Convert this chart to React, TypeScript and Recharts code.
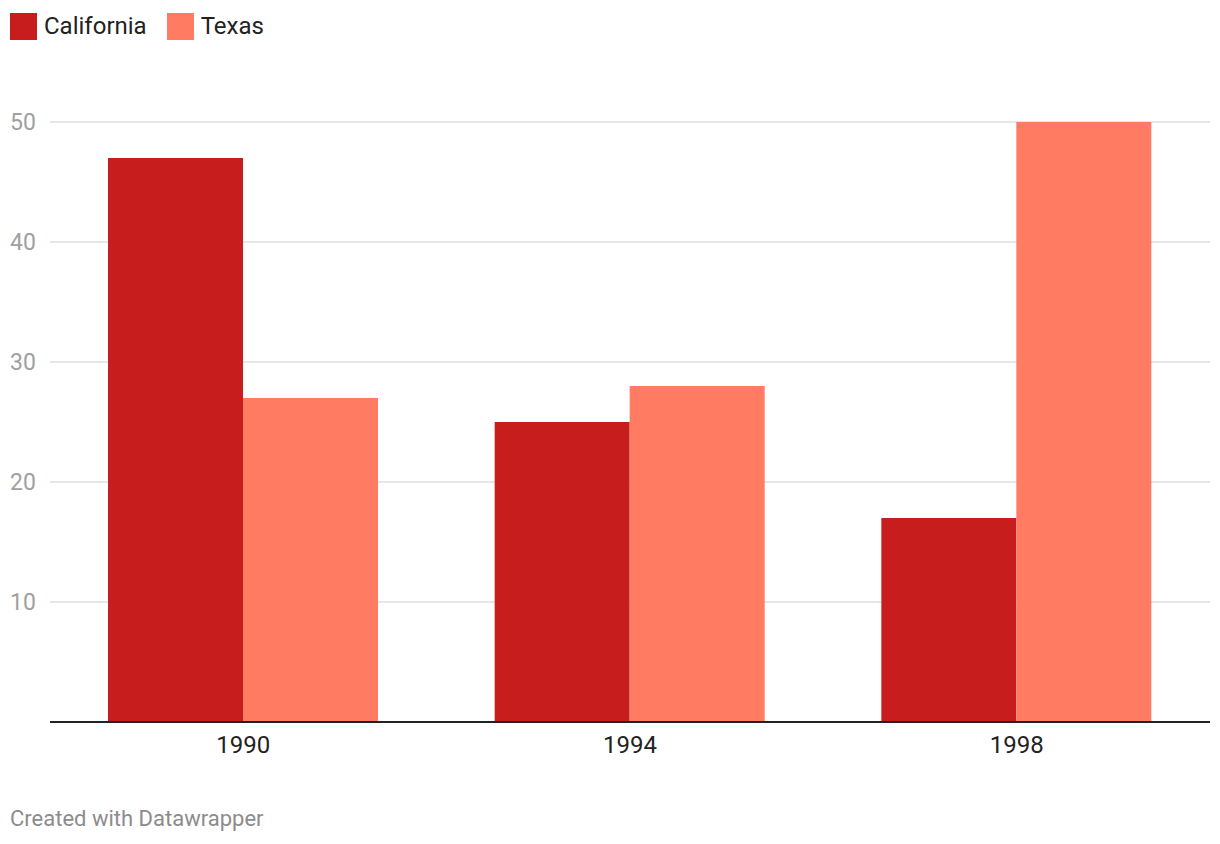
import { BarChart, Bar, XAxis, YAxis, CartesianGrid } from 'recharts';

const YEARS = ['1990', '1994', '1998'];
const CALIFORNIA = [47, 25, 17];
const TEXAS = [27, 28, 50];
const Y_TICKS = [10, 20, 30, 40, 50];

const SERIES = [
  { key: 'california', label: 'California', color: '#c71e1d' },
  { key: 'texas', label: 'Texas', color: '#ff7c62' },
];

const FONT = 'Roboto, "Noto Sans", sans-serif';

const data = YEARS.map((year, i) => ({
  year,
  california: CALIFORNIA[i],
  texas: TEXAS[i],
}));

function YTick({ y, payload }: any) {
  return (
    <text x={10} y={y} dy={8} textAnchor="start" fill="#a0a0a0" fontSize={23} fontFamily={FONT}>
      {payload.value}
    </text>
  );
}

export default function App() {
  return (
    <div style={{ position: 'absolute', left: 0, top: 0, width: 1220, height: 844, background: '#fff', fontFamily: FONT }}>
      <div style={{ position: 'absolute', left: 10, top: 13, display: 'flex', alignItems: 'center' }}>
        {SERIES.map((s) => (
          <div key={s.key} style={{ display: 'flex', alignItems: 'center', marginRight: 20 }}>
            <div style={{ width: 27, height: 27, background: s.color, marginRight: 7 }} />
            <span style={{ fontSize: 24, color: '#222', lineHeight: '27px' }}>{s.label}</span>
          </div>
        ))}
      </div>
      <div style={{ position: 'absolute', left: 0, top: 0 }}>
        <BarChart
          width={1220}
          height={844}
          data={data}
          margin={{ top: 122, right: 10, left: 0, bottom: 82 }}
          barCategoryGap="15%"
          barGap={0}
        >
          <CartesianGrid vertical={false} stroke="#e6e6e6" strokeWidth={2} horizontalValues={Y_TICKS} />
          <XAxis
            dataKey="year"
            height={40}
            tickLine={false}
            axisLine={{ stroke: '#222', strokeWidth: 2 }}
            tick={{ fill: '#222', fontSize: 24, fontFamily: FONT }}
            tickMargin={8}
          />
          <YAxis
            width={50}
            domain={[0, 50]}
            ticks={Y_TICKS}
            axisLine={false}
            tickLine={false}
            tick={<YTick />}
          />
          {SERIES.map((s) => (
            <Bar key={s.key} dataKey={s.key} fill={s.color} isAnimationActive={false} />
          ))}
        </BarChart>
      </div>
      <div style={{ position: 'absolute', left: 10, top: 806, fontSize: 22, color: '#8c8c8c' }}>
        Created with Datawrapper
      </div>
    </div>
  );
}
